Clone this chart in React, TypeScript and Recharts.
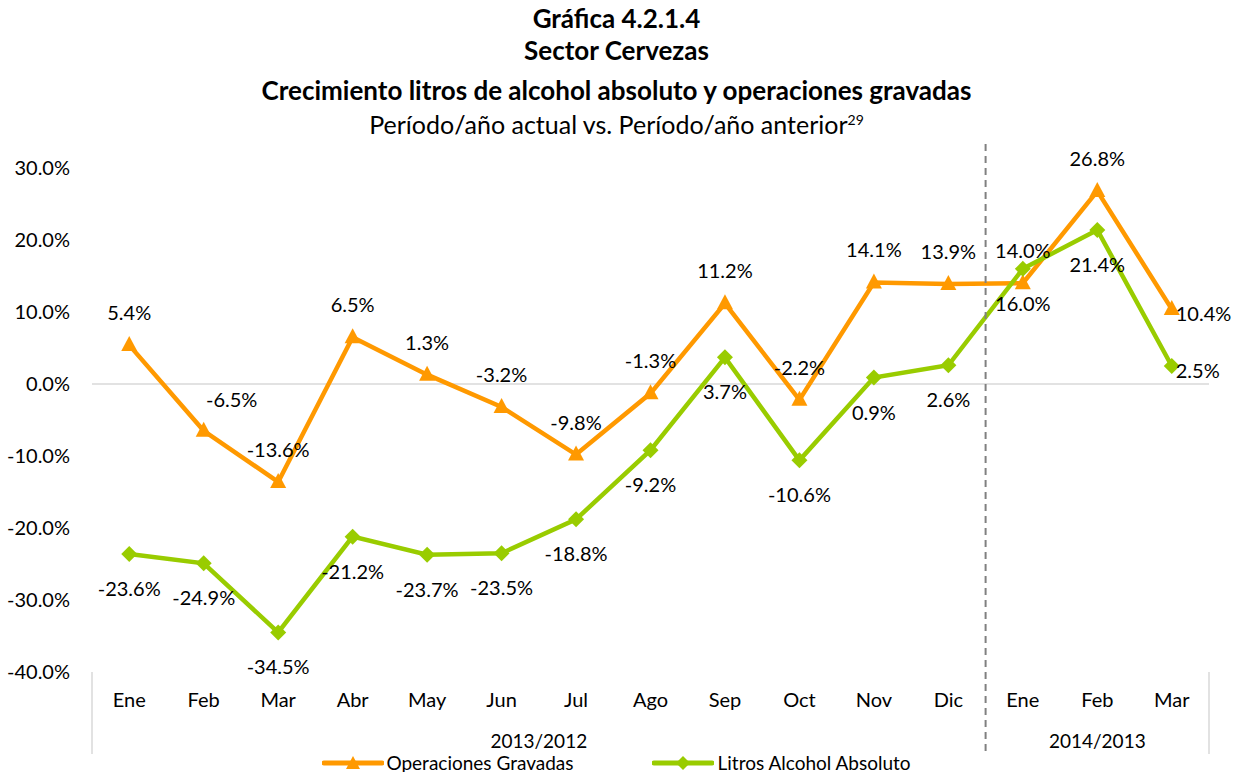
import React from "react";
import { LineChart, Line, XAxis, YAxis, ReferenceLine, Legend, LabelList } from "recharts";

const months = ["Ene", "Feb", "Mar", "Abr", "May", "Jun", "Jul", "Ago", "Sep", "Oct", "Nov", "Dic", "Ene", "Feb", "Mar"];
const groupLabels = ["2013/2012", "2014/2013"];
const groupSizes = [12, 3];
const operaciones = [5.4, -6.5, -13.6, 6.5, 1.3, -3.2, -9.8, -1.3, 11.2, -2.2, 14.1, 13.9, 14.0, 26.8, 10.4];
const litros = [-23.6, -24.9, -34.5, -21.2, -23.7, -23.5, -18.8, -9.2, 3.7, -10.6, 0.9, 2.6, 16.0, 21.4, 2.5];
const yTicks = [-40, -30, -20, -10, 0, 10, 20, 30];

// where each data label sits relative to its point
const opsPlace = ["top", "topRight", "top", "top", "top", "top", "top", "top", "top", "top", "top", "top", "top", "top", "right"];
const litPlace = ["bottom", "bottom", "bottom", "bottom", "bottom", "bottom", "bottom", "bottom", "bottom", "bottom", "bottom", "bottom", "bottom", "bottom", "right"];

const ORANGE = "#FF9900";
const GREEN = "#99CC00";
const FONT = "Lato, 'Open Sans', sans-serif";

const W = 1233;
const H = 772;
const M = { top: 168, right: 24, left: 12, bottom: 20 };
const Y_W = 80;
const PLOT_W = W - M.left - M.right - Y_W;
const BAND = PLOT_W / months.length;

const data = months.map((m, i) => ({ month: m, ops: operaciones[i], lit: litros[i] }));

// first index of each group
const groupStarts = groupSizes.map((_, g) => groupSizes.slice(0, g).reduce((a, b) => a + b, 0));

const fmt = (v: number) => `${v.toFixed(1)}%`;

const Triangle = (props: any) => {
  const { cx, cy, key } = props;
  if (cx == null || cy == null) return null;
  return <path key={key} d={`M${cx},${cy - 9} L${cx + 8},${cy + 6} L${cx - 8},${cy + 6} Z`} fill={ORANGE} />;
};

const Diamond = (props: any) => {
  const { cx, cy, key } = props;
  if (cx == null || cy == null) return null;
  return <path key={key} d={`M${cx},${cy - 8} L${cx + 8},${cy} L${cx},${cy + 8} L${cx - 8},${cy} Z`} fill={GREEN} />;
};

const makeLabel = (place: string[]) => (props: any) => {
  const { x, y, value, index } = props;
  const p = place[index];
  let tx = x;
  let ty = y;
  let anchor: "middle" | "start" = "middle";
  if (p === "top") ty = y - 33;
  else if (p === "bottom") ty = y + 34;
  else if (p === "topRight") {
    tx = x + 28;
    ty = y - 32;
  } else if (p === "right") {
    tx = x + 4;
    ty = y + 4;
    anchor = "start";
  }
  return (
    <text x={tx} y={ty} textAnchor={anchor} dominantBaseline="central" fontSize={20} fontFamily={FONT} fill="#000">
      {fmt(value)}
    </text>
  );
};

const MonthTick = (props: any) => {
  const { x, y, payload, index } = props;
  const g = groupStarts.indexOf(index);
  const isLast = index === months.length - 1;
  return (
    <g>
      <text x={x} y={y + 27} textAnchor="middle" dominantBaseline="central" fontSize={20} fontFamily={FONT} fill="#000">
        {payload.value}
      </text>
      {g === 0 && <line x1={x - BAND / 2} x2={x - BAND / 2} y1={y} y2={y + 82} stroke="#d9d9d9" strokeWidth={1.5} />}
      {g > 0 && (
        <line x1={x - BAND / 2} x2={x - BAND / 2} y1={y - 528} y2={y + 82} stroke="#808080" strokeWidth={2} strokeDasharray="7 5" />
      )}
      {isLast && <line x1={x + BAND / 2} x2={x + BAND / 2} y1={y} y2={y + 82} stroke="#d9d9d9" strokeWidth={1.5} />}
      {g >= 0 && (
        <text
          x={x + ((groupSizes[g] - 1) / 2) * BAND}
          y={y + 68}
          textAnchor="middle"
          dominantBaseline="central"
          fontSize={19}
          fontFamily={FONT}
          fill="#000"
        >
          {groupLabels[g]}
        </text>
      )}
    </g>
  );
};

const LegendIcon = ({ color, shape }: { color: string; shape: "tri" | "dia" }) => (
  <svg width={62} height={18} style={{ display: "block" }}>
    <line x1={2} x2={60} y1={9} y2={9} stroke={color} strokeWidth={5} strokeLinecap="round" />
    {shape === "tri" ? (
      <path d="M31,2 L38,15 L24,15 Z" fill={color} />
    ) : (
      <path d="M31,2 L38,9 L31,16 L24,9 Z" fill={color} />
    )}
  </svg>
);

const renderLegend = () => (
  <div
    style={{
      display: "flex",
      justifyContent: "center",
      alignItems: "center",
      fontFamily: FONT,
      fontSize: 19,
      lineHeight: "20px",
      color: "#000",
    }}
  >
    <LegendIcon color={ORANGE} shape="tri" />
    <span style={{ marginLeft: 2, marginRight: 78 }}>Operaciones Gravadas</span>
    <LegendIcon color={GREEN} shape="dia" />
    <span style={{ marginLeft: 4 }}>Litros Alcohol Absoluto</span>
  </div>
);

export default function App() {
  return (
    <div style={{ position: "absolute", left: 0, top: 0, width: W, height: H, background: "#fff", fontFamily: FONT }}>
      <div style={{ position: "absolute", left: 0, top: 2, width: W, textAlign: "center", color: "#000" }}>
        <div style={{ fontWeight: 700, fontSize: 26, lineHeight: "32px" }}>Gráfica 4.2.1.4</div>
        <div style={{ fontWeight: 700, fontSize: 26, lineHeight: "32px" }}>Sector Cervezas</div>
        <div style={{ fontWeight: 700, fontSize: 26, lineHeight: "40px", marginTop: 4 }}>
          Crecimiento litros de alcohol absoluto y operaciones gravadas
        </div>
        <div style={{ fontSize: 25, lineHeight: "32px", marginTop: -2 }}>
          Período/año actual vs. Período/año anterior
          <sup style={{ fontSize: 14, lineHeight: 0 }}>29</sup>
        </div>
      </div>
      <LineChart width={W} height={H} data={data} margin={M} style={{ position: "absolute", left: 0, top: 0 }}>
        <XAxis
          dataKey="month"
          interval={0}
          axisLine={false}
          tickLine={false}
          tickSize={0}
          tickMargin={0}
          height={80}
          padding={{ left: BAND / 2, right: BAND / 2 }}
          tick={<MonthTick />}
        />
        <YAxis
          width={Y_W}
          domain={[-40, 30]}
          ticks={yTicks}
          interval={0}
          axisLine={false}
          tickLine={false}
          tickSize={0}
          tickMargin={22}
          tickFormatter={fmt}
          tick={{ fontSize: 20, fill: "#000", fontFamily: FONT }}
        />
        <ReferenceLine y={0} stroke="#d9d9d9" strokeWidth={1.5} />
        <Legend
          layout="horizontal"
          verticalAlign="middle"
          align="center"
          content={renderLegend}
          wrapperStyle={{ top: 753, left: 0, width: W }}
        />
        <Line
          dataKey="ops"
          name="Operaciones Gravadas"
          stroke={ORANGE}
          strokeWidth={4.5}
          dot={<Triangle />}
          activeDot={false}
          isAnimationActive={false}
        >
          <LabelList dataKey="ops" content={makeLabel(opsPlace)} />
        </Line>
        <Line
          dataKey="lit"
          name="Litros Alcohol Absoluto"
          stroke={GREEN}
          strokeWidth={4.5}
          dot={<Diamond />}
          activeDot={false}
          isAnimationActive={false}
        >
          <LabelList dataKey="lit" content={makeLabel(litPlace)} />
        </Line>
      </LineChart>
    </div>
  );
}
